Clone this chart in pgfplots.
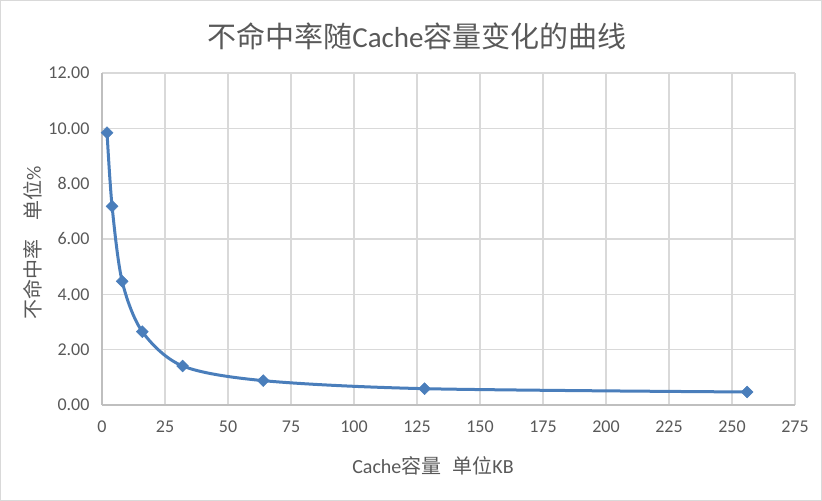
\documentclass[border=0pt]{standalone}
\usepackage{pgfplots}
\pgfplotsset{compat=1.18}
\usepackage{fontspec}
\setmainfont{Carlito}
\newfontfamily\cjk{Noto Sans CJK SC}
\definecolor{txt}{HTML}{595959}
\definecolor{gridc}{HTML}{D9D9D9}
\definecolor{axc}{HTML}{BFBFBF}
\definecolor{ser}{RGB}{74,126,187}
\definecolor{brd}{HTML}{D9D9D9}
\begin{document}
\begin{tikzpicture}[x=1bp,y=1bp]
\draw[brd, line width=1bp] (0.5,0.5) rectangle (821.5,500.5);
\begin{axis}[
  at={(102bp,96bp)}, anchor=south west,
  scale only axis, width=693bp, height=332bp,
  xmin=0, xmax=275, ymin=0, ymax=12,
  xtick={0,25,...,275}, ytick={0,2,...,12},
  axis lines=left, axis line style={-, axc, line width=1.2bp},
  grid=major, major grid style={gridc, line width=1.2bp},
  major tick length=0pt,
  tick label style={txt, font=\fontsize{18bp}{21bp}\selectfont},
  /pgf/number format/assume math mode=true,
  yticklabel style={/pgf/number format/fixed, /pgf/number format/zerofill, /pgf/number format/precision=2, xshift=-9bp},
  xticklabel style={/pgf/number format/fixed, /pgf/number format/precision=0, yshift=-12bp},
  clip=false,
]
\addplot[ser, line width=3bp, smooth, tension=0.5, mark=square*, mark size=4.2bp, mark options={fill=ser, draw=ser, line width=0.5bp, rotate=45}]
coordinates {(2,9.84) (4,7.18) (8,4.47) (16,2.65) (32,1.41) (64,0.88) (128,0.59) (256,0.47)};
\end{axis}
\node[txt, font=\fontsize{29bp}{33bp}\selectfont] at (417,465) {{\cjk 不命中率随}Cache{\cjk 容量变化的曲线}};
\node[txt, font=\fontsize{20bp}{24bp}\selectfont] at (433,35) {Cache{\cjk 容量}\hspace{11bp}{\cjk 单位}KB};
\node[txt, font=\fontsize{20bp}{24bp}\selectfont, rotate=90] at (33,258) {{\cjk 不命中率}\hspace{19bp}{\cjk 单位}\%};
\end{tikzpicture}
\end{document}
